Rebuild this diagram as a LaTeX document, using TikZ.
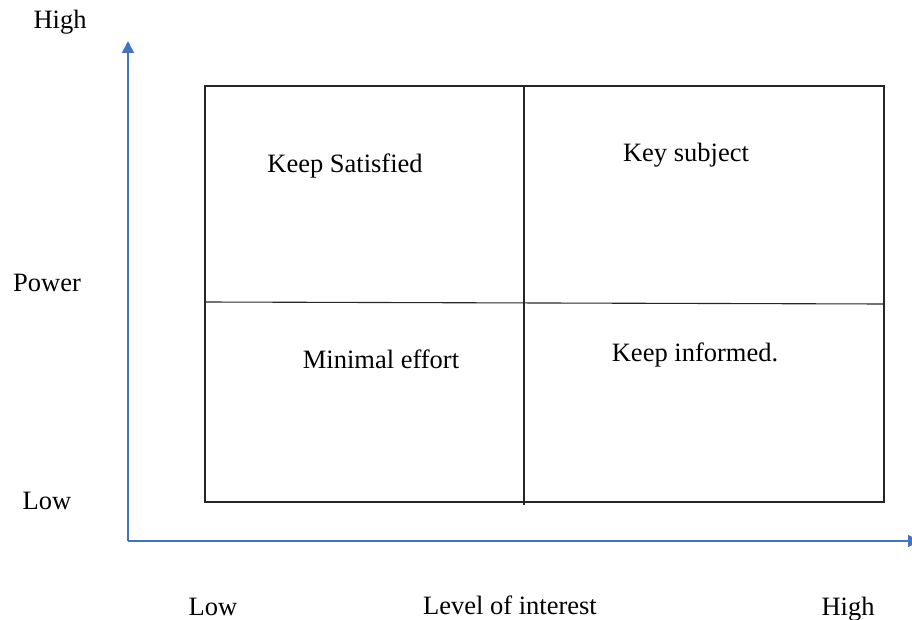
\documentclass[tikz,border=0pt]{standalone}
\usepackage{fontspec}
\setmainfont{Liberation Serif}
\usetikzlibrary{arrows.meta}
\definecolor{axisblue}{RGB}{68,114,196}
\tikzset{
  axisline/.style={draw=axisblue, line width=1.6pt, -{Triangle[length=12pt,width=12pt]}},
  gridline/.style={draw=black!85, line width=1.1pt},
  lbl/.style={font=\fontsize{26.5}{30}\selectfont, inner sep=0pt, anchor=base}
}

\begin{document}
\begin{tikzpicture}[x=1pt,y=-1pt]
	\useasboundingbox (0,0) rectangle (912,620);
	
	\coordinate (origin) at (128,541);
	\coordinate (ytip) at (128,41);
	\coordinate (xtip) at (920,541);
	\draw[axisline] (origin) -- (ytip);
	\draw[axisline] (origin) -- (xtip);
	
	\draw[gridline] (205,86) rectangle (884,502);
	\draw[gridline] (524,86) -- (524,505);
	\draw[gridline] (205,302) -- (884,304);
	
	\node[lbl] (yhigh) at (60,29) {High};
	\node[lbl] (ypower) at (47,291) {Power};
	\node[lbl] (ylow) at (47,509) {Low};
	\node[lbl] (xlow) at (213,615) {Low};
	\node[lbl] (xinterest) at (510,614) {Level of interest};
	\node[lbl] (xhigh) at (848,615) {High};
	
	\node[lbl] (satisfied) at (345,173) {Keep Satisfied};
	\node[lbl] (keysubject) at (686,162) {Key subject};
	\node[lbl] (minimal) at (381,368) {Minimal effort};
	\node[lbl] (informed) at (695,361) {Keep informed.};
\end{tikzpicture}
\end{document}
